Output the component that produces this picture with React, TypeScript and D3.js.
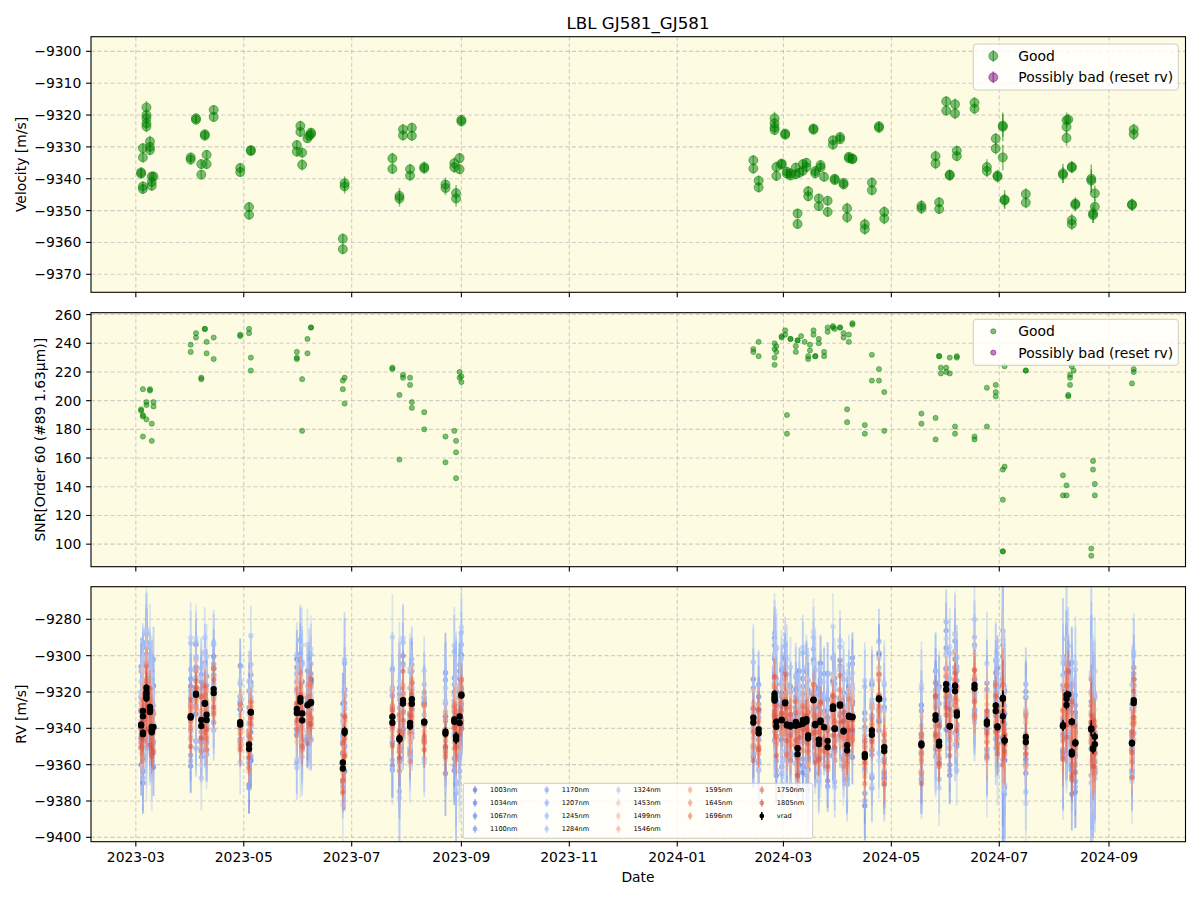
import React from "react";
import * as d3 from "d3";

// LBL velocity per observation: [date, velocity m/s, error m/s]
const VELOCITY: [string, number, number][] = [
  ["2023-03-04", -9338.4, 1.6], ["2023-03-04", -9338.0, 1.6],
  ["2023-03-05", -9342.4, 1.6], ["2023-03-05", -9343.2, 1.6], ["2023-03-05", -9330.4, 1.6], ["2023-03-05", -9333.3, 1.6],
  ["2023-03-07", -9317.6, 2.0], ["2023-03-07", -9320.0, 2.0], ["2023-03-07", -9321.0, 1.8], ["2023-03-07", -9322.6, 1.8], ["2023-03-07", -9323.6, 1.8],
  ["2023-03-09", -9328.3, 1.8], ["2023-03-09", -9330.0, 1.6], ["2023-03-09", -9331.0, 1.6],
  ["2023-03-10", -9339.3, 1.6], ["2023-03-10", -9341.0, 1.6], ["2023-03-10", -9342.2, 1.6],
  ["2023-03-11", -9339.3, 1.6],
  ["2023-04-01", -9333.3, 1.5], ["2023-04-01", -9334.0, 1.5],
  ["2023-04-04", -9321.0, 1.4], ["2023-04-04", -9321.5, 1.4],
  ["2023-04-07", -9335.4, 1.5], ["2023-04-07", -9338.7, 1.5],
  ["2023-04-09", -9326.0, 1.4], ["2023-04-09", -9326.5, 1.4],
  ["2023-04-10", -9332.5, 1.5], ["2023-04-10", -9335.4, 1.5],
  ["2023-04-14", -9318.4, 1.5], ["2023-04-14", -9320.6, 1.5],
  ["2023-04-29", -9336.6, 1.5], ["2023-04-29", -9337.9, 1.5],
  ["2023-05-04", -9348.9, 1.5], ["2023-05-04", -9351.3, 1.5],
  ["2023-05-05", -9331.0, 1.4], ["2023-05-05", -9331.3, 1.4],
  ["2023-05-31", -9329.4, 1.5], ["2023-05-31", -9331.5, 1.5],
  ["2023-06-02", -9323.4, 1.6], ["2023-06-02", -9325.3, 1.6],
  ["2023-06-03", -9331.8, 1.6], ["2023-06-03", -9335.6, 1.8],
  ["2023-06-06", -9327.3, 1.5],
  ["2023-06-07", -9326.5, 1.5],
  ["2023-06-08", -9326.0, 1.4], ["2023-06-08", -9325.5, 1.4],
  ["2023-06-26", -9358.8, 1.6], ["2023-06-26", -9362.1, 1.6],
  ["2023-06-27", -9341.4, 2.2], ["2023-06-27", -9342.4, 2.2],
  ["2023-07-24", -9333.6, 1.8], ["2023-07-24", -9336.9, 1.6],
  ["2023-07-28", -9345.4, 2.5], ["2023-07-28", -9346.2, 2.5],
  ["2023-07-30", -9324.5, 1.8], ["2023-07-30", -9326.4, 1.6],
  ["2023-08-03", -9337.0, 1.6], ["2023-08-03", -9339.0, 1.6],
  ["2023-08-04", -9324.0, 1.6], ["2023-08-04", -9326.5, 1.6],
  ["2023-08-11", -9336.3, 1.6], ["2023-08-11", -9336.8, 1.6],
  ["2023-08-23", -9341.8, 2.2], ["2023-08-23", -9342.9, 2.2],
  ["2023-08-28", -9335.1, 1.8], ["2023-08-28", -9336.4, 1.8],
  ["2023-08-29", -9344.5, 2.5], ["2023-08-29", -9346.2, 2.5],
  ["2023-08-31", -9333.5, 1.6], ["2023-08-31", -9337.0, 1.6],
  ["2023-09-01", -9321.5, 1.6], ["2023-09-01", -9322.0, 1.6],
  ["2024-02-13", -9334.2, 1.6], ["2024-02-13", -9336.8, 1.6],
  ["2024-02-16", -9340.6, 1.6], ["2024-02-16", -9342.7, 1.6],
  ["2024-02-25", -9321.0, 2.0], ["2024-02-25", -9322.6, 1.6], ["2024-02-25", -9323.9, 1.6], ["2024-02-25", -9324.7, 1.6],
  ["2024-02-26", -9336.3, 1.6], ["2024-02-26", -9339.1, 1.6],
  ["2024-02-29", -9335.2, 1.4], ["2024-02-29", -9335.6, 1.4],
  ["2024-03-02", -9325.8, 1.4], ["2024-03-02", -9326.2, 1.4],
  ["2024-03-03", -9337.8, 1.6], ["2024-03-03", -9338.4, 1.6],
  ["2024-03-05", -9338.3, 1.4], ["2024-03-05", -9339.0, 1.4],
  ["2024-03-08", -9336.5, 1.5], ["2024-03-08", -9338.6, 1.5],
  ["2024-03-09", -9350.9, 1.5], ["2024-03-09", -9354.2, 1.5],
  ["2024-03-10", -9338.1, 1.4],
  ["2024-03-12", -9335.4, 1.5], ["2024-03-12", -9337.5, 1.5],
  ["2024-03-14", -9335.0, 1.5], ["2024-03-14", -9336.3, 1.5],
  ["2024-03-15", -9343.9, 1.6], ["2024-03-15", -9345.5, 1.6],
  ["2024-03-18", -9324.2, 1.4], ["2024-03-18", -9324.6, 1.4],
  ["2024-03-19", -9338.3, 1.5], ["2024-03-19", -9337.6, 1.5],
  ["2024-03-21", -9346.2, 1.5], ["2024-03-21", -9348.6, 1.5],
  ["2024-03-22", -9335.7, 1.4], ["2024-03-22", -9336.5, 1.4],
  ["2024-03-24", -9339.4, 1.5],
  ["2024-03-26", -9346.9, 1.5], ["2024-03-26", -9350.4, 1.5],
  ["2024-03-29", -9327.9, 1.4], ["2024-03-29", -9329.3, 1.4],
  ["2024-03-30", -9340.0, 1.4], ["2024-03-30", -9340.4, 1.4],
  ["2024-04-02", -9326.9, 1.4], ["2024-04-02", -9327.6, 1.4],
  ["2024-04-04", -9341.3, 1.5], ["2024-04-04", -9341.8, 1.5],
  ["2024-04-06", -9349.3, 1.8], ["2024-04-06", -9352.1, 1.8],
  ["2024-04-07", -9333.1, 1.4], ["2024-04-07", -9333.6, 1.4],
  ["2024-04-09", -9333.6, 1.4], ["2024-04-09", -9333.9, 1.4],
  ["2024-04-16", -9354.3, 1.8], ["2024-04-16", -9355.8, 1.8],
  ["2024-04-20", -9341.2, 1.6], ["2024-04-20", -9343.6, 1.6],
  ["2024-04-24", -9323.5, 1.6], ["2024-04-24", -9324.0, 1.6],
  ["2024-04-27", -9350.4, 1.8], ["2024-04-27", -9352.5, 1.8],
  ["2024-05-18", -9348.5, 1.8], ["2024-05-18", -9349.3, 1.8],
  ["2024-05-26", -9332.9, 1.8], ["2024-05-26", -9335.2, 1.8],
  ["2024-05-28", -9347.4, 1.6], ["2024-05-28", -9349.5, 1.6],
  ["2024-06-01", -9315.7, 1.6], ["2024-06-01", -9318.6, 1.6],
  ["2024-06-03", -9338.7, 1.6], ["2024-06-03", -9339.0, 1.6],
  ["2024-06-06", -9316.6, 1.8], ["2024-06-06", -9319.5, 1.8],
  ["2024-06-07", -9331.2, 1.6], ["2024-06-07", -9332.9, 1.6],
  ["2024-06-17", -9316.1, 1.8], ["2024-06-17", -9318.0, 1.8],
  ["2024-06-24", -9336.3, 2.4], ["2024-06-24", -9337.6, 2.0],
  ["2024-06-29", -9327.4, 1.8], ["2024-06-29", -9330.5, 1.8],
  ["2024-06-30", -9339.0, 1.8], ["2024-06-30", -9339.4, 1.8],
  ["2024-07-03", -9323.7, 4.5], ["2024-07-03", -9323.3, 3.5], ["2024-07-03", -9333.3, 4.0],
  ["2024-07-04", -9346.5, 3.0], ["2024-07-04", -9346.8, 2.2],
  ["2024-07-16", -9344.8, 1.8], ["2024-07-16", -9347.5, 1.8],
  ["2024-08-06", -9338.3, 3.0], ["2024-08-06", -9338.8, 2.5],
  ["2024-08-08", -9321.6, 2.4], ["2024-08-08", -9323.7, 2.4], ["2024-08-08", -9327.2, 2.4],
  ["2024-08-09", -9321.4, 1.8],
  ["2024-08-11", -9336.5, 1.8], ["2024-08-11", -9336.2, 1.8],
  ["2024-08-11", -9353.0, 2.0], ["2024-08-11", -9354.2, 2.0],
  ["2024-08-13", -9347.8, 2.0], ["2024-08-13", -9348.2, 2.0],
  ["2024-08-22", -9340.0, 4.5], ["2024-08-22", -9340.6, 3.5],
  ["2024-08-23", -9350.9, 3.0], ["2024-08-23", -9351.4, 2.5],
  ["2024-08-24", -9344.6, 2.5], ["2024-08-24", -9348.8, 2.5],
  ["2024-09-14", -9348.0, 1.8], ["2024-09-14", -9348.3, 1.8],
  ["2024-09-15", -9324.5, 1.8], ["2024-09-15", -9326.0, 1.8],
];

// SNR in order 60 per observation: [date, snr]
const SNR: [string, number][] = [
  ["2023-03-04", 194], ["2023-03-04", 193],
  ["2023-03-05", 208], ["2023-03-05", 175], ["2023-03-05", 190], ["2023-03-05", 189],
  ["2023-03-07", 199], ["2023-03-07", 197], ["2023-03-07", 187],
  ["2023-03-09", 208], ["2023-03-09", 207],
  ["2023-03-10", 184], ["2023-03-10", 172],
  ["2023-03-11", 199], ["2023-03-11", 196],
  ["2023-04-01", 239], ["2023-04-01", 234],
  ["2023-04-04", 247], ["2023-04-04", 244],
  ["2023-04-07", 216], ["2023-04-07", 215],
  ["2023-04-09", 250], ["2023-04-09", 250],
  ["2023-04-10", 241], ["2023-04-10", 233],
  ["2023-04-14", 244], ["2023-04-14", 229],
  ["2023-04-29", 246], ["2023-04-29", 245],
  ["2023-05-04", 250], ["2023-05-04", 247],
  ["2023-05-05", 230], ["2023-05-05", 221],
  ["2023-05-31", 234], ["2023-05-31", 230], ["2023-05-31", 229],
  ["2023-06-03", 215], ["2023-06-03", 179],
  ["2023-06-06", 243], ["2023-06-06", 233],
  ["2023-06-08", 251], ["2023-06-08", 251],
  ["2023-06-26", 214], ["2023-06-26", 208],
  ["2023-06-27", 216], ["2023-06-27", 198],
  ["2023-07-24", 223], ["2023-07-24", 222],
  ["2023-07-28", 204], ["2023-07-28", 159],
  ["2023-07-30", 218], ["2023-07-30", 216],
  ["2023-08-03", 216], ["2023-08-03", 211],
  ["2023-08-04", 199], ["2023-08-04", 195],
  ["2023-08-11", 192], ["2023-08-11", 180],
  ["2023-08-23", 175], ["2023-08-23", 157],
  ["2023-08-28", 179],
  ["2023-08-29", 172], ["2023-08-29", 164], ["2023-08-29", 146],
  ["2023-08-31", 220], ["2023-08-31", 216],
  ["2023-09-01", 217], ["2023-09-01", 213],
  ["2024-02-13", 236], ["2024-02-13", 234],
  ["2024-02-16", 241], ["2024-02-16", 231],
  ["2024-02-25", 240], ["2024-02-25", 236], ["2024-02-25", 230], ["2024-02-25", 225],
  ["2024-02-26", 238], ["2024-02-26", 234],
  ["2024-02-29", 245], ["2024-02-29", 244],
  ["2024-03-02", 249], ["2024-03-02", 246],
  ["2024-03-03", 190], ["2024-03-03", 177],
  ["2024-03-05", 243], ["2024-03-05", 243],
  ["2024-03-08", 238], ["2024-03-08", 234],
  ["2024-03-09", 242], ["2024-03-09", 242],
  ["2024-03-11", 245],
  ["2024-03-13", 241],
  ["2024-03-15", 231], ["2024-03-15", 229],
  ["2024-03-16", 239], ["2024-03-16", 235],
  ["2024-03-18", 249], ["2024-03-18", 246],
  ["2024-03-19", 231], ["2024-03-19", 231],
  ["2024-03-21", 243], ["2024-03-21", 240],
  ["2024-03-24", 234], ["2024-03-24", 231],
  ["2024-03-26", 251], ["2024-03-26", 248],
  ["2024-03-29", 252], ["2024-03-29", 251],
  ["2024-03-30", 250],
  ["2024-04-02", 251], ["2024-04-02", 251],
  ["2024-04-04", 247], ["2024-04-04", 244],
  ["2024-04-06", 194], ["2024-04-06", 185],
  ["2024-04-07", 246], ["2024-04-07", 241],
  ["2024-04-09", 254], ["2024-04-09", 253],
  ["2024-04-16", 183], ["2024-04-16", 177],
  ["2024-04-20", 232], ["2024-04-20", 214],
  ["2024-04-24", 222], ["2024-04-24", 214],
  ["2024-04-27", 206], ["2024-04-27", 179],
  ["2024-05-18", 191], ["2024-05-18", 184],
  ["2024-05-26", 188], ["2024-05-26", 173],
  ["2024-05-28", 231], ["2024-05-28", 231],
  ["2024-05-29", 223], ["2024-05-29", 219],
  ["2024-06-01", 223], ["2024-06-01", 220],
  ["2024-06-03", 230], ["2024-06-03", 219],
  ["2024-06-06", 182], ["2024-06-06", 177],
  ["2024-06-07", 231], ["2024-06-07", 230],
  ["2024-06-17", 175], ["2024-06-17", 173],
  ["2024-06-24", 209], ["2024-06-24", 182],
  ["2024-06-29", 211], ["2024-06-29", 206], ["2024-06-29", 203],
  ["2024-07-03", 152], ["2024-07-03", 131],
  ["2024-07-03", 95], ["2024-07-03", 95],
  ["2024-07-04", 154], ["2024-07-04", 224],
  ["2024-07-16", 221], ["2024-07-16", 221],
  ["2024-08-06", 148], ["2024-08-06", 134],
  ["2024-08-08", 141], ["2024-08-08", 134],
  ["2024-08-09", 204], ["2024-08-09", 203],
  ["2024-08-10", 218], ["2024-08-10", 216], ["2024-08-10", 211],
  ["2024-08-11", 224],
  ["2024-08-12", 221],
  ["2024-08-22", 97], ["2024-08-22", 92],
  ["2024-08-23", 158], ["2024-08-23", 152],
  ["2024-08-24", 142], ["2024-08-24", 134],
  ["2024-09-14", 212],
  ["2024-09-15", 222], ["2024-09-15", 220],
];

// per-wavelength RV bands
const BANDS = [1003, 1034, 1067, 1100, 1170, 1207, 1245, 1284, 1324, 1453, 1499, 1546, 1595, 1645, 1696, 1750, 1805];
const BAND_SCATTER = [16, 16, 15, 15, 18, 18, 19, 20, 21, 12, 10, 9, 8, 8, 8, 9, 10];
const BAND_ERR = [17, 16, 15, 15, 18, 18, 19, 19, 21, 13, 11, 10, 8, 7, 8, 9, 10];
const BAND_BIAS = [2, 2, 1, 1, 3, 3, 4, 4, 4, 0, -1, -1, -2, -2, -2, -3, -3];
const RESIDUAL_PATTERN = [0.4, -1.1, 0.9, -0.3, 1.6, -0.7, 0.1, -1.5, 1.2, -0.2, 0.6, -0.9, 1.9, -0.4, 0.3, -1.3, 0.8, -0.1, 1.4, -0.6, 0.2, -1.8, 1.0, -0.5, 0.5, -1.0, 1.3, 0.0, -0.8, 0.7, -1.2];

const VEL_TICKS = [-9300, -9310, -9320, -9330, -9340, -9350, -9360, -9370];
const SNR_TICKS = [100, 120, 140, 160, 180, 200, 220, 240, 260];
const RV_TICKS = [-9280, -9300, -9320, -9340, -9360, -9380, -9400];

const FONT = "DejaVu Sans, sans-serif";
const BG = "#fdfbe2";
const GREEN = "#008000";
const PURPLE = "#800080";
const X0 = 91;
const X1 = 1185.5;

const parse = d3.utcParse("%Y-%m-%d");
const x = d3.scaleUtc()
  .domain([new Date("2023-02-03T16:00:00Z"), new Date("2024-10-14T06:00:00Z")])
  .range([X0, X1]);
const yVel = d3.scaleLinear().domain([-9375.65, -9295.4]).range([292.3, 36.7]);
const ySnr = d3.scaleLinear().domain([84.3, 261.3]).range([566.7, 312.7]);
const yRv = d3.scaleLinear().domain([-9402.4, -9262.05]).range([841.7, 586.7]);

const coolwarm = d3.scaleLinear<string>()
  .domain([0, 0.125, 0.25, 0.375, 0.5, 0.625, 0.75, 0.875, 1])
  .range(["#3b4cc0", "#5a78e4", "#7b9ff9", "#9ebeff", "#dddcdc", "#f7b89c", "#f4987a", "#e16852", "#b40426"])
  .interpolate(d3.interpolateRgb);
const bandColor = (w: number) => coolwarm((w - 900) / 1000);
const isRed = (w: number) => w > 1400;

const fmt = d3.format("d");
const xTicks = x.ticks(d3.utcMonth.every(2) as d3.TimeInterval);
const fmtDate = d3.utcFormat("%Y-%m");

function Frame(props: {
  id: string; y: d3.ScaleLinear<number, number>; ticks: number[];
  label: string; labelX: number; showDates: boolean; children?: React.ReactNode;
}) {
  const { id, y, ticks, label, labelX, showDates, children } = props;
  const [bottom, top] = y.range();
  return (
    <g>
      <defs>
        <clipPath id={id}><rect x={X0} y={top} width={X1 - X0} height={bottom - top} /></clipPath>
      </defs>
      <rect x={X0} y={top} width={X1 - X0} height={bottom - top} fill={BG} />
      {xTicks.map((t) => (
        <line key={"gx" + t.getTime()} x1={x(t)} x2={x(t)} y1={top} y2={bottom}
          stroke="#b0b0b0" strokeOpacity={0.6} strokeWidth={1.1} strokeDasharray="4,2.5" />
      ))}
      {ticks.map((v) => (
        <line key={"gy" + v} x1={X0} x2={X1} y1={y(v)} y2={y(v)}
          stroke="#b0b0b0" strokeOpacity={0.6} strokeWidth={1.1} strokeDasharray="4,2.5" />
      ))}
      <g clipPath={`url(#${id})`}>{children}</g>
      <rect x={X0} y={top} width={X1 - X0} height={bottom - top} fill="none" stroke="#000" strokeWidth={1.1} />
      {ticks.map((v) => (
        <g key={"ty" + v}>
          <line x1={X0 - 4.9} x2={X0} y1={y(v)} y2={y(v)} stroke="#000" strokeWidth={1.1} />
          <text x={X0 - 9.7} y={y(v)} textAnchor="end" dominantBaseline="central" fontSize={13.9} fontFamily={FONT}>{fmt(v)}</text>
        </g>
      ))}
      {xTicks.map((t) => (
        <g key={"tx" + t.getTime()}>
          <line x1={x(t)} x2={x(t)} y1={bottom} y2={bottom + 4.9} stroke="#000" strokeWidth={1.1} />
          {showDates && (
            <text x={x(t)} y={bottom + 20.5} textAnchor="middle" fontSize={13.9} fontFamily={FONT}>{fmtDate(t)}</text>
          )}
        </g>
      ))}
      <text transform={`translate(${labelX},${(top + bottom) / 2}) rotate(-90)`} textAnchor="middle"
        dominantBaseline="central" fontSize={13.9} fontFamily={FONT}>{label}</text>
    </g>
  );
}

function LegendBox(props: { top: number; big: boolean }) {
  const { top, big } = props;
  const rows = [{ label: "Good", color: GREEN }, { label: "Possibly bad (reset rv)", color: PURPLE }];
  return (
    <g>
      <rect x={973.3} y={top} width={205} height={46} rx={3} fill="#fff" fillOpacity={0.8} stroke="#cccccc" strokeWidth={1} />
      {rows.map((r, i) => {
        const cy = top + 12 + i * 21.3;
        return (
          <g key={r.label}>
            {big && <line x1={993.3} x2={993.3} y1={cy - 6} y2={cy + 6} stroke={r.color} strokeOpacity={0.5} strokeWidth={1.5} />}
            <circle cx={993.3} cy={cy} r={big ? 4.5 : 2.6} fill={r.color} fillOpacity={0.5} stroke={r.color} strokeOpacity={0.5} />
            <text x={1018.3} y={cy} dominantBaseline="central" fontSize={13.9} fontFamily={FONT}>{r.label}</text>
          </g>
        );
      })}
    </g>
  );
}

function BandLegend() {
  const entries = [...BANDS.map((w) => ({ label: w + "nm", color: bandColor(w), black: false })), { label: "vrad", color: "#000", black: true }];
  return (
    <g>
      <rect x={463.3} y={783.3} width={349.4} height={55} rx={2} fill="#fff" fillOpacity={0.8} stroke="#cccccc" strokeWidth={1} />
      {entries.map((e, k) => {
        const col = k < 12 ? Math.floor(k / 4) : 3 + Math.floor((k - 12) / 3);
        const row = k < 12 ? k % 4 : (k - 12) % 3;
        const cx = 475 + col * 71.7;
        const cy = 790 + row * 13;
        return (
          <g key={e.label}>
            <line x1={cx} x2={cx} y1={cy - 4} y2={cy + 4} stroke={e.color} strokeOpacity={e.black ? 1 : 0.5} strokeWidth={1.5} />
            <circle cx={cx} cy={cy} r={2.4} fill={e.color} fillOpacity={e.black ? 1 : 0.6} />
            <text x={cx + 15} y={cy} dominantBaseline="central" fontSize={6.6} fontFamily={FONT}>{e.label}</text>
          </g>
        );
      })}
    </g>
  );
}

export default function App() {
  const vel = VELOCITY.map(([d, v, e]) => ({ t: parse(d) as Date, v, e }));
  const snr = SNR.map(([d, s]) => ({ t: parse(d) as Date, s }));

  return (
    <svg width={1200} height={900} style={{ position: "absolute", left: 0, top: 0, background: "#fff" }}>
      <text x={638} y={29} textAnchor="middle" fontSize={16.7} fontFamily={FONT}>LBL GJ581_GJ581</text>

      <Frame id="clip-vel" y={yVel} ticks={VEL_TICKS} label="Velocity [m/s]" labelX={20.7} showDates={false}>
        {vel.map((d, i) => (
          <g key={i}>
            <line x1={x(d.t)} x2={x(d.t)} y1={yVel(d.v - d.e)} y2={yVel(d.v + d.e)} stroke={GREEN} strokeOpacity={0.5} strokeWidth={1.5} />
            <circle cx={x(d.t)} cy={yVel(d.v)} r={4.5} fill={GREEN} fillOpacity={0.5} stroke={GREEN} strokeOpacity={0.5} strokeWidth={1} />
          </g>
        ))}
      </Frame>
      <LegendBox top={44} big={true} />

      <Frame id="clip-snr" y={ySnr} ticks={SNR_TICKS} label="SNR[Order 60 (#89 1.63μm)]" labelX={40} showDates={false}>
        {snr.map((d, i) => (
          <circle key={i} cx={x(d.t)} cy={ySnr(d.s)} r={2.6} fill={GREEN} fillOpacity={0.5} stroke={GREEN} strokeOpacity={0.5} strokeWidth={0.8} />
        ))}
      </Frame>
      <LegendBox top={319.3} big={false} />

      <Frame id="clip-rv" y={yRv} ticks={RV_TICKS} label="RV [m/s]" labelX={20.7} showDates={true}>
        {BANDS.map((w, b) => {
          const color = bandColor(w);
          const red = isRed(w);
          return (
            <g key={w}>
              {vel.map((d, i) => {
                const r = RESIDUAL_PATTERN[(i * 7 + b * 12) % RESIDUAL_PATTERN.length];
                const val = d.v + BAND_BIAS[b] + r * BAND_SCATTER[b];
                const err = BAND_ERR[b] * (d.e / 1.6);
                return (
                  <g key={i}>
                    <line x1={x(d.t)} x2={x(d.t)} y1={yRv(val - err)} y2={yRv(val + err)} stroke={color}
                      strokeOpacity={red ? 0.35 : 0.45} strokeWidth={red ? 1.5 : 1.8} />
                    <circle cx={x(d.t)} cy={yRv(val)} r={2.7} fill={color} fillOpacity={red ? 0.5 : 0.6} />
                  </g>
                );
              })}
            </g>
          );
        })}
        {vel.map((d, i) => (
          <g key={"v" + i}>
            <line x1={x(d.t)} x2={x(d.t)} y1={yRv(d.v - d.e)} y2={yRv(d.v + d.e)} stroke="#000" strokeWidth={1.5} />
            <circle cx={x(d.t)} cy={yRv(d.v)} r={3.2} fill="#000" />
          </g>
        ))}
      </Frame>
      <BandLegend />

      <text x={638} y={882} textAnchor="middle" fontSize={13.9} fontFamily={FONT}>Date</text>
    </svg>
  );
}
